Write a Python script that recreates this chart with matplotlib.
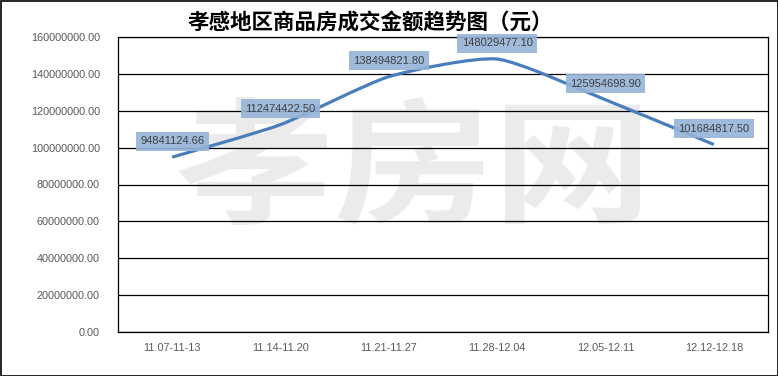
import numpy as np
import matplotlib
matplotlib.use("Agg")
import matplotlib.pyplot as plt
from matplotlib.path import Path
from matplotlib.patches import PathPatch, Rectangle
from matplotlib.textpath import TextPath
from matplotlib.font_manager import FontProperties
from matplotlib.transforms import Affine2D

plt.rcParams["font.family"] = ["Liberation Sans", "DejaVu Sans"]

title = "孝感地区商品房成交金额趋势图（元）"
weeks = ["11.07-11-13", "11.14-11.20", "11.21-11.27", "11.28-12.04", "12.05-12.11", "12.12-12.18"]
amounts = [94841124.66, 112474422.50, 138494821.80, 148029477.10, 125954698.90, 101684817.50]
y_ticks = [0, 20000000, 40000000, 60000000, 80000000, 100000000, 120000000, 140000000, 160000000]

line_color = "#4A7EBB"
text_grey = "#595959"

fig = plt.figure(figsize=(7.78, 3.76), dpi=100)
ax = fig.add_axes([118 / 778, 44 / 376, 650 / 778, 295 / 376])

x = np.arange(len(weeks))
y = np.array(amounts)

# smoothed line (bezier through the points, mild tension)
pts = np.column_stack([x, y])
ext = np.vstack([pts[0], pts, pts[-1]])
verts = [pts[0]]
codes = [Path.MOVETO]
for i in range(len(pts) - 1):
    p0, p1, p2, p3 = ext[i], ext[i + 1], ext[i + 2], ext[i + 3]
    c1 = p1 + (p2 - p0) / 10
    c2 = p2 - (p3 - p1) / 10
    verts += [c1, c2, p2]
    codes += [Path.CURVE4] * 3
ax.add_patch(PathPatch(Path(verts, codes), facecolor="none", edgecolor=line_color,
                       linewidth=2.3, capstyle="butt", zorder=3))

for xi, yi in zip(x, y):
    ax.annotate(f"{yi:.2f}", (xi, yi), xytext=(0, 11.5), textcoords="offset points",
                ha="center", va="center", fontsize=8, color="#404040", zorder=5,
                bbox=dict(boxstyle="square,pad=0.4", fc="#95B3D7", ec="none", alpha=0.9))

ax.set_xlim(-0.5, len(weeks) - 0.5)
ax.set_ylim(0, 160000000)
ax.set_xticks(x)
ax.set_xticklabels(weeks)
ax.set_yticks(y_ticks)
ax.set_yticklabels([f"{v:.2f}" for v in y_ticks])
ax.tick_params(length=0, labelsize=7.8, labelcolor=text_grey)
ax.tick_params(axis="y", pad=13)
ax.tick_params(axis="x", pad=8)
ax.set_axisbelow(True)
ax.yaxis.grid(True, color="black", linewidth=0.9)
for s in ax.spines.values():
    s.set_color("black")
    s.set_linewidth(0.9)

# watermark
wm = TextPath((0, 0), "孝房网", size=100, prop=FontProperties(family="Noto Sans CJK SC", weight="bold"))
bb = wm.get_extents()
x0, x1 = (178 - 118) / 650, (640 - 118) / 650
y0, y1 = (332 - 225) / 295, (332 - 97) / 295
tr = Affine2D().translate(-bb.x0, -bb.y0).scale((x1 - x0) / bb.width, (y1 - y0) / bb.height).translate(x0, y0)
ax.add_patch(PathPatch(tr.transform_path(wm), facecolor="#EBEBEB", edgecolor="none",
                       transform=ax.transAxes, zorder=0.2))

fig.text(370 / 778, 1 - 22 / 376, title, ha="center", va="center", fontsize=15.5,
         fontweight="bold", family=["Noto Sans CJK SC", "DejaVu Sans"])

fig.patches.append(Rectangle((0.5 / 778, 0.5 / 376), 777 / 778, 375 / 376, transform=fig.transFigure,
                             fill=False, edgecolor="black", linewidth=1.2))

fig.savefig("out.png", dpi=100)
